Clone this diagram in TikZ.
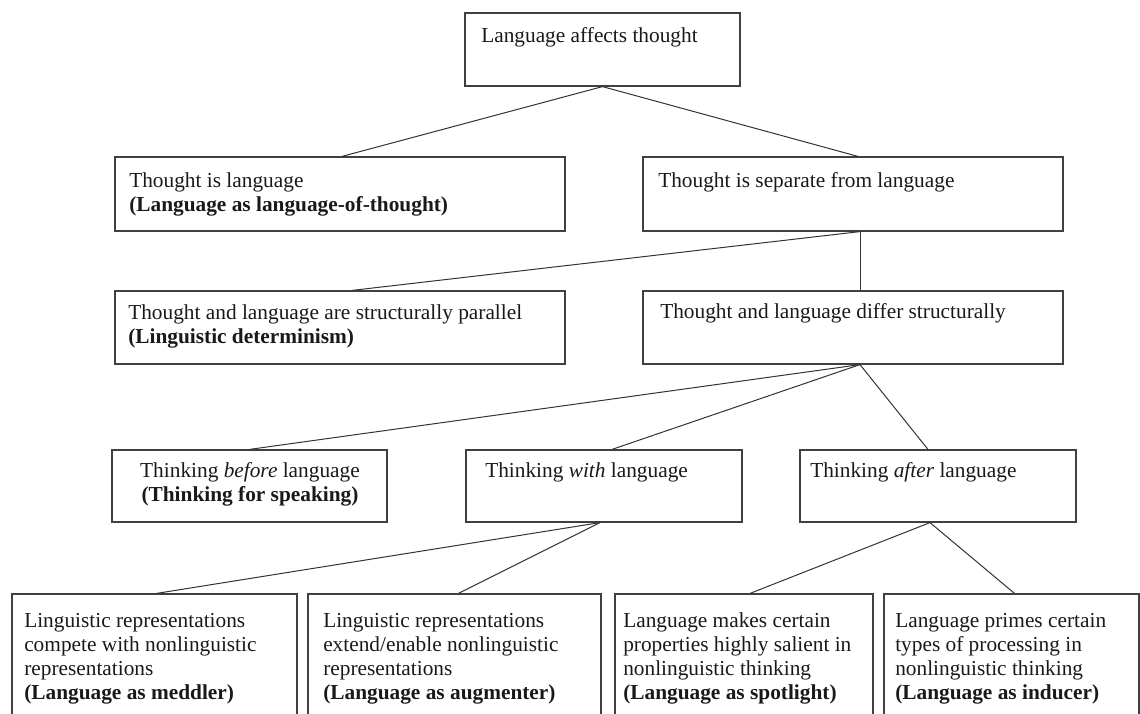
\documentclass[tikz,border=0pt]{standalone}
\usepackage{fontspec}
\setmainfont{Liberation Serif}
\usetikzlibrary{fit,calc}
\begin{document}
\begin{tikzpicture}[x=0.75pt,y=-0.75pt,
  box/.style={draw=black!75, line width=0.9pt, inner sep=0pt},
  txt/.style={inner sep=0pt, anchor=base west, text=black!90, font=\fontsize{16}{18.2}\selectfont},
  ctxt/.style={txt, anchor=base},
  link/.style={draw=black!80, line width=0.75pt}]
\useasboundingbox (0,0) rectangle (1140,714);
\clip (0,0) rectangle (1140,714);
% boxes
\node[box, fit={(465,13) (740,86)}] (A) {};
\node[box, fit={(115,157) (565,231)}] (B) {};
\node[box, fit={(643,157) (1063,231)}] (C) {};
\node[box, fit={(115,291) (565,364)}] (D) {};
\node[box, fit={(643,291) (1063,364)}] (E) {};
\node[box, fit={(112,450) (387,522)}] (F) {};
\node[box, fit={(466,450) (742,522)}] (G) {};
\node[box, fit={(800,450) (1076,522)}] (H) {};
\node[box, fit={(12,594) (297,740)}] (I) {};
\node[box, fit={(308,594) (601,740)}] (J) {};
\node[box, fit={(615,594) (873,740)}] (K) {};
\node[box, fit={(884,594) (1139,740)}] (L) {};
% texts
\node[txt] (At) at (481,42) {Language affects thought};
\node[txt] (Bt) at (129,187) {\begin{tabular}[t]{@{}l@{}}Thought is language\\ \textbf{(Language as language-of-thought)}\end{tabular}};
\node[txt] (Ct) at (658,187) {Thought is separate from language};
\node[txt] (Dt) at (128,319) {\begin{tabular}[t]{@{}l@{}}Thought and language are structurally parallel\\ \textbf{(Linguistic determinism)}\end{tabular}};
\node[txt] (Et) at (660,318) {Thought and language differ structurally};
\node[ctxt] (Ft) at (250,477) {\begin{tabular}[t]{@{}c@{}}Thinking \textit{before} language\\ \textbf{(Thinking for speaking)}\end{tabular}};
\node[txt] (Gt) at (485,477) {Thinking \textit{with} language};
\node[txt] (Ht) at (810,477) {Thinking \textit{after} language};
\node[txt] (It) at (24,627) {\begin{tabular}[t]{@{}l@{}}Linguistic representations\\ compete with nonlinguistic\\ representations\\ \textbf{(Language as meddler)}\end{tabular}};
\node[txt] (Jt) at (323,627) {\begin{tabular}[t]{@{}l@{}}Linguistic representations\\ extend/enable nonlinguistic\\ representations\\ \textbf{(Language as augmenter)}\end{tabular}};
\node[txt] (Kt) at (623,627) {\begin{tabular}[t]{@{}l@{}}Language makes certain\\ properties highly salient in\\ nonlinguistic thinking\\ \textbf{(Language as spotlight)}\end{tabular}};
\node[txt] (Lt) at (895,627) {\begin{tabular}[t]{@{}l@{}}Language primes certain\\ types of processing in\\ nonlinguistic thinking\\ \textbf{(Language as inducer)}\end{tabular}};
% connectors
\draw[link] (A.south) -- ($(B.north)+(2,0)$);
\draw[link] (A.south) -- ($(C.north)+(5,0)$);
\draw[link] ($(C.south)+(7,0)$) -- ($(D.north)+(12,0)$);
\draw[link] ($(C.south)+(7,0)$) -- ($(E.north)+(7,0)$);
\draw[link] ($(E.south)+(7,0)$) -- (F.north);
\draw[link] ($(E.south)+(7,0)$) -- ($(G.north)+(8,0)$);
\draw[link] ($(E.south)+(7,0)$) -- ($(H.north)+(-10,0)$);
\draw[link] ($(G.south)+(-4,0)$) -- ($(I.north)+(2,0)$);
\draw[link] ($(G.south)+(-4,0)$) -- ($(J.north)+(4,0)$);
\draw[link] ($(H.south)+(-8,0)$) -- ($(K.north)+(6,0)$);
\draw[link] ($(H.south)+(-8,0)$) -- ($(L.north)+(3,0)$);
\end{tikzpicture}
\end{document}
